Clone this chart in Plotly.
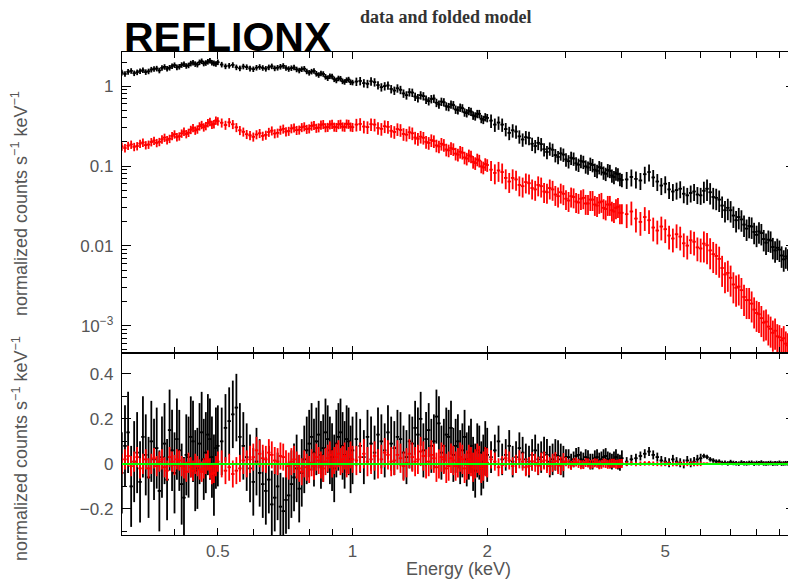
import plotly.graph_objects as go

# ---------------- data ----------------
energy = [
    0.305, 0.31, 0.315, 0.32, 0.325, 0.33, 0.335, 0.34, 0.345, 0.35,
    0.355, 0.36, 0.365, 0.37, 0.375, 0.38, 0.385, 0.39, 0.395, 0.40,
    0.405, 0.41, 0.415, 0.42, 0.425, 0.43, 0.435, 0.44, 0.445, 0.45,
    0.455, 0.46, 0.465, 0.47, 0.475, 0.48, 0.485, 0.49, 0.495, 0.50,
    0.51, 0.52, 0.53, 0.54, 0.55, 0.56, 0.57, 0.58, 0.59, 0.60,
    0.61, 0.62, 0.63, 0.64, 0.65, 0.66, 0.67, 0.68, 0.69, 0.70,
    0.71, 0.72, 0.73, 0.74, 0.75, 0.76, 0.77, 0.78, 0.79, 0.80,
    0.81, 0.82, 0.83, 0.84, 0.85, 0.86, 0.87, 0.88, 0.89, 0.90,
    0.91, 0.92, 0.93, 0.94, 0.95, 0.96, 0.97, 0.98, 0.99, 1.00,
    1.02, 1.04, 1.06, 1.08, 1.10, 1.12, 1.14, 1.16, 1.18, 1.20,
    1.22, 1.24, 1.26, 1.28, 1.30, 1.32, 1.34, 1.36, 1.38, 1.40,
    1.42, 1.44, 1.46, 1.48, 1.50, 1.52, 1.54, 1.56, 1.58, 1.60,
    1.62, 1.64, 1.66, 1.68, 1.70, 1.72, 1.74, 1.76, 1.78, 1.80,
    1.82, 1.84, 1.86, 1.88, 1.90, 1.92, 1.94, 1.96, 1.98, 2.00,
    2.04, 2.08, 2.12, 2.16, 2.20, 2.24, 2.28, 2.32, 2.36, 2.40,
    2.44, 2.48, 2.52, 2.56, 2.60, 2.64, 2.68, 2.72, 2.76, 2.80,
    2.84, 2.88, 2.92, 2.96, 3.00, 3.04, 3.08, 3.12, 3.16, 3.20,
    3.24, 3.28, 3.32, 3.36, 3.40, 3.44, 3.48, 3.52, 3.56, 3.60,
    3.64, 3.68, 3.72, 3.76, 3.80, 3.84, 3.88, 3.92, 3.96, 4.00,
    4.1, 4.2, 4.3, 4.4, 4.5, 4.6, 4.7, 4.8, 4.9, 5.0,
    5.1, 5.2, 5.3, 5.4, 5.5, 5.6, 5.7, 5.8, 5.9, 6.0,
    6.1, 6.2, 6.3, 6.4, 6.5, 6.6, 6.7, 6.8, 6.9, 7.0,
    7.1, 7.2, 7.3, 7.4, 7.5, 7.6, 7.7, 7.8, 7.9, 8.0,
    8.1, 8.2, 8.3, 8.4, 8.5, 8.6, 8.7, 8.8, 8.9, 9.0,
    9.1, 9.2, 9.3, 9.4, 9.5, 9.6,
]

black_counts = [
    1.48, 1.42, 1.51, 1.55, 1.45, 1.49, 1.54, 1.58, 1.50, 1.53,
    1.61, 1.64, 1.66, 1.57, 1.69, 1.74, 1.65, 1.70, 1.78, 1.83,
    1.72, 1.75, 1.84, 1.88, 1.79, 1.82, 1.92, 1.97, 1.89, 1.86,
    1.99, 2.05, 1.92, 1.95, 2.02, 2.08, 1.97, 1.93, 1.90, 1.99,
    1.86, 1.77, 1.80, 1.84, 1.72, 1.67, 1.76, 1.73, 1.66, 1.63,
    1.70, 1.74, 1.69, 1.65, 1.72, 1.77, 1.67, 1.70, 1.75, 1.79,
    1.69, 1.64, 1.68, 1.71, 1.62, 1.57, 1.63, 1.65, 1.53, 1.47,
    1.52, 1.55, 1.43, 1.38, 1.44, 1.42, 1.31, 1.26, 1.33, 1.32,
    1.22, 1.18, 1.25, 1.24, 1.15, 1.13, 1.19, 1.21, 1.12, 1.11,
    1.14, 1.16, 1.09, 1.07, 1.15, 1.12, 1.03, 0.97, 1.00, 1.02,
    0.92, 0.88, 0.94, 0.90, 0.81, 0.77, 0.84, 0.83, 0.74, 0.71,
    0.77, 0.75, 0.68, 0.65, 0.69, 0.70, 0.62, 0.59, 0.64, 0.63,
    0.56, 0.55, 0.59, 0.58, 0.51, 0.50, 0.54, 0.53, 0.47, 0.46,
    0.49, 0.48, 0.43, 0.42, 0.45, 0.45, 0.39, 0.38, 0.41, 0.40,
    0.37, 0.33, 0.35, 0.33, 0.29, 0.26, 0.28, 0.27, 0.235, 0.215,
    0.230, 0.225, 0.190, 0.178, 0.195, 0.188, 0.162, 0.150, 0.166, 0.160,
    0.137, 0.130, 0.144, 0.139, 0.121, 0.115, 0.127, 0.124, 0.108, 0.104,
    0.116, 0.113, 0.099, 0.096, 0.107, 0.103, 0.090, 0.087, 0.097, 0.094,
    0.083, 0.080, 0.089, 0.087, 0.076, 0.073, 0.081, 0.079, 0.069, 0.067,
    0.068, 0.073, 0.069, 0.066, 0.079, 0.084, 0.072, 0.064, 0.057, 0.060,
    0.051, 0.048, 0.050, 0.052, 0.045, 0.043, 0.046, 0.048, 0.044, 0.043,
    0.049, 0.052, 0.047, 0.041, 0.040, 0.038, 0.032, 0.028, 0.030, 0.028,
    0.024, 0.021, 0.023, 0.0215, 0.0185, 0.0165, 0.0178, 0.0175, 0.0150, 0.0138,
    0.0152, 0.0145, 0.0122, 0.0110, 0.0120, 0.0117, 0.0097, 0.0088, 0.0095, 0.0090,
    0.0076, 0.0068, 0.0074, 0.0070, 0.0058, 0.0053,
]

red_counts = [
    0.176, 0.168, 0.180, 0.186, 0.174, 0.178, 0.191, 0.197, 0.183, 0.186,
    0.200, 0.208, 0.195, 0.201, 0.216, 0.227, 0.212, 0.220, 0.238, 0.250,
    0.231, 0.236, 0.256, 0.270, 0.252, 0.262, 0.285, 0.300, 0.279, 0.288,
    0.315, 0.328, 0.306, 0.318, 0.346, 0.358, 0.330, 0.336, 0.372, 0.364,
    0.348, 0.326, 0.352, 0.333, 0.305, 0.280, 0.268, 0.250, 0.242, 0.232,
    0.248, 0.257, 0.238, 0.245, 0.266, 0.277, 0.255, 0.260, 0.283, 0.292,
    0.270, 0.274, 0.295, 0.302, 0.281, 0.284, 0.305, 0.312, 0.290, 0.294,
    0.318, 0.324, 0.299, 0.303, 0.328, 0.333, 0.304, 0.307, 0.330, 0.335,
    0.309, 0.306, 0.332, 0.336, 0.311, 0.308, 0.338, 0.335, 0.310, 0.306,
    0.330, 0.336, 0.312, 0.307, 0.334, 0.330, 0.300, 0.292, 0.315, 0.309,
    0.276, 0.267, 0.290, 0.283, 0.252, 0.247, 0.265, 0.257, 0.227, 0.219,
    0.233, 0.226, 0.201, 0.195, 0.211, 0.205, 0.181, 0.176, 0.190, 0.184,
    0.161, 0.157, 0.168, 0.163, 0.143, 0.139, 0.151, 0.147, 0.128, 0.124,
    0.136, 0.132, 0.113, 0.109, 0.121, 0.117, 0.099, 0.096, 0.106, 0.103,
    0.090, 0.082, 0.088, 0.084, 0.071, 0.064, 0.071, 0.068, 0.058, 0.056,
    0.063, 0.061, 0.053, 0.051, 0.058, 0.056, 0.048, 0.047, 0.053, 0.051,
    0.044, 0.042, 0.047, 0.045, 0.039, 0.037, 0.042, 0.041, 0.036, 0.035,
    0.039, 0.040, 0.034, 0.034, 0.038, 0.038, 0.033, 0.032, 0.035, 0.036,
    0.030, 0.029, 0.033, 0.033, 0.028, 0.027, 0.030, 0.031, 0.026, 0.026,
    0.025, 0.027, 0.022, 0.020, 0.023, 0.021, 0.017, 0.0156, 0.0175, 0.0162,
    0.0135, 0.0124, 0.0140, 0.0131, 0.0108, 0.0101, 0.0118, 0.0113, 0.0096, 0.0093,
    0.0107, 0.0102, 0.0088, 0.0079, 0.0075, 0.0069, 0.0053, 0.0044, 0.0046, 0.0040,
    0.0033, 0.0030, 0.0031, 0.0028, 0.0023, 0.0021, 0.0021, 0.0019, 0.0016, 0.00145,
    0.00140, 0.00125, 0.00110, 0.00113, 0.00098, 0.00092, 0.00082, 0.00087, 0.00074, 0.00072,
    0.00066, 0.00070, 0.00060, 0.00057, 0.00055, 0.00057,
]

# relative 1-sigma errors of the spectra (read per energy band)
black_rel_err = [0.08] * 40 + [0.08] * 50 + [0.12] * 50 + [0.19] * 50 + [0.24] * 20 + [0.30] * 36
red_rel_err = [0.12] * 40 + [0.13] * 50 + [0.18] * 50 + [0.28] * 50 + [0.33] * 20 + [0.42] * 36

black_resid = [
    -0.04, 0.08, 0.14, -0.10, 0.01, 0.05, -0.08, 0.12, 0.04, -0.06,
    0.10, 0.02, 0.07, -0.12, 0.03, 0.09, -0.07, 0.15, 0.06, -0.04,
    0.11, 0.06, -0.09, -0.15, 0.04, 0.03, 0.12, 0.10, -0.03, -0.02,
    0.09, 0.14, 0.02, 0.05, 0.13, 0.11, 0.03, -0.05, 0.07, 0.08,
    0.10, 0.16, 0.19, 0.22, 0.25, 0.12, 0.08, 0.03, -0.02, -0.08,
    0.01, -0.04, -0.09, -0.12, -0.07, -0.18, -0.15, -0.10, -0.19, -0.21,
    -0.16, -0.14, -0.09, -0.06, -0.02, -0.11, -0.04, 0.02, 0.06, 0.09,
    0.12, 0.05, 0.10, 0.13, 0.04, 0.07, 0.14, 0.11, 0.06, 0.03,
    -0.02, 0.09, 0.12, 0.14, 0.08, 0.04, 0.11, 0.10, 0.02, 0.06,
    0.11, 0.08, 0.03, 0.12, 0.09, 0.05, 0.13, 0.10, 0.06, 0.14,
    0.09, 0.07, 0.12, 0.11, 0.05, 0.03, 0.10, 0.09, 0.16, 0.13,
    0.20, 0.06, 0.11, 0.15, 0.08, 0.10, 0.21, 0.18, 0.05, 0.08,
    0.13, 0.12, 0.16, 0.04, 0.08, 0.10, 0.03, 0.06, 0.12, 0.02,
    0.05, 0.08, 0.00, -0.03, 0.06, 0.05, -0.02, 0.01, 0.07, 0.04,
    0.03, 0.06, 0.10, 0.02, 0.04, 0.08, 0.01, 0.03, 0.07, 0.05,
    0.02, 0.01, 0.04, 0.06, 0.02, 0.03, 0.05, 0.04, 0.01, 0.02,
    0.04, 0.035, 0.02, 0.01, 0.03, 0.03, 0.01, 0.02, 0.035, 0.04,
    0.02, 0.015, 0.03, 0.025, 0.01, 0.01, 0.025, 0.03, 0.015, 0.02,
    0.03, 0.035, 0.02, 0.015, 0.01, 0.02, 0.03, 0.01, 0.005, 0.025,
    0.01, 0.02, 0.025, 0.035, 0.045, 0.055, 0.04, 0.03, 0.015, 0.01,
    0.005, 0.02, 0.01, 0.005, 0.00, 0.015, 0.005, 0.01, 0.02, 0.025,
    0.035, 0.03, 0.02, 0.015, 0.01, 0.01, 0.004, 0.005, 0.002, 0.008,
    0.004, 0.003, 0.001, 0.006, 0.003, 0.002, 0.004, 0.005, 0.001, 0.004,
    0.003, 0.006, 0.002, 0.002, 0.003, 0.004, 0.001, 0.003, 0.002, 0.005,
    0.001, 0.002, 0.003, 0.003, 0.001, 0.001,
]

red_resid = [
    0.00, 0.02, 0.035, -0.01, 0.01, 0.03, -0.02, 0.00, 0.02, -0.02,
    0.00, 0.025, -0.01, 0.01, 0.02, -0.015, -0.03, 0.03, 0.01, -0.005,
    0.02, 0.015, -0.01, -0.02, -0.035, 0.005, -0.015, -0.03, 0.00, -0.01,
    -0.025, -0.035, -0.02, 0.00, 0.015, -0.02, -0.045, -0.04, -0.01, 0.01,
    0.00, -0.03, -0.015, -0.045, -0.03, -0.02, 0.015, 0.00, 0.02, 0.03,
    0.06, 0.045, 0.025, 0.02, 0.05, 0.04, 0.015, 0.01, 0.035, 0.03,
    0.00, -0.01, 0.01, 0.02, -0.005, -0.02, -0.035, 0.00, -0.015, -0.025,
    0.005, -0.01, 0.03, 0.015, -0.005, -0.02, 0.01, 0.025, 0.04, 0.00,
    0.015, 0.03, 0.045, 0.01, 0.02, 0.035, 0.00, 0.015, 0.04, 0.02,
    0.015, 0.03, 0.045, 0.01, 0.02, 0.035, 0.00, 0.02, 0.05, 0.04,
    0.01, 0.015, 0.04, 0.025, -0.01, 0.005, 0.045, 0.03, 0.01, 0.02,
    0.055, 0.035, 0.00, 0.01, 0.04, 0.025, -0.015, 0.00, 0.03, 0.02,
    -0.02, -0.01, 0.025, 0.015, -0.01, 0.005, 0.03, 0.02, -0.02, -0.005,
    0.02, 0.01, -0.015, 0.00, 0.025, 0.015, -0.02, -0.01, 0.01, 0.005,
    0.02, 0.01, -0.015, -0.005, 0.025, 0.015, -0.01, 0.00, 0.02, 0.01,
    -0.015, -0.01, 0.012, 0.005, -0.008, 0.01, 0.015, 0.00, -0.01, 0.005,
    0.012, -0.005, -0.008, 0.008, 0.01, 0.00, -0.006, 0.005, 0.008, 0.002,
    -0.004, -0.003, 0.006, 0.004, -0.003, 0.00, 0.005, 0.003, -0.004, -0.002,
    0.004, 0.002, -0.002, 0.00, 0.003, 0.003, -0.002, -0.001, 0.002, 0.002,
    0.001, 0.002, -0.001, 0.001, 0.002, 0.003, 0.001, 0.00, -0.001, 0.001,
    0.001, -0.001, 0.00, 0.001, 0.00, 0.00, 0.001, 0.001, 0.00, 0.00,
    0.001, 0.001, 0.00, 0.00, 0.00, 0.001, 0.00, 0.00, 0.00, 0.00,
    0.00, 0.00, 0.00, 0.00, 0.00, 0.00, 0.00, 0.00, 0.00, 0.00,
    0.00, 0.00, 0.00, 0.00, 0.00, 0.00, 0.00, 0.00, 0.00, 0.00,
    0.00, 0.00, 0.00, 0.00, 0.00, 0.00,
]

black_resid_err = [0.18] * 40 + [0.15] * 50 + [0.12] * 50 + [0.07] * 24 + [0.035] * 26 + [0.02] * 20 + [0.01] * 36
red_resid_err = [0.045] * 40 + [0.06] * 50 + [0.065] * 50 + [0.04] * 24 + [0.02] * 26 + [0.01] * 20 + [0.005] * 36

x_tick_vals = [0.5, 1, 2, 5]
x_tick_text = ["0.5", "1", "2", "5"]
x_minor_vals = [0.4, 0.6, 0.7, 0.8, 0.9, 3, 4, 6, 7, 8, 9]
y_tick_vals = [0.001, 0.01, 0.1, 1]
y_tick_text = ["10<sup>\u22123</sup>", "0.01", "0.1", "1"]
y_minor_vals = [k * 10.0 ** d for d in range(-4, 1) for k in range(2, 10)]
res_tick_vals = [-0.2, 0, 0.2, 0.4]
res_tick_text = ["\u22120.2", "0", "0.2", "0.4"]

# ---------------- figure ----------------
BLACK = "#000000"
RED = "#ff0000"
GREEN = "#00ff00"
FONT = "Liberation Sans, Arial, Helvetica, sans-serif"
GREY = "#555555"

black_err = [v * r for v, r in zip(black_counts, black_rel_err)]
red_err = [v * r for v, r in zip(red_counts, red_rel_err)]


def data_trace(y, err, color, xa, ya):
    return go.Scatter(
        x=energy, y=y, mode="markers", xaxis=xa, yaxis=ya,
        marker=dict(size=2, color=color),
        error_y=dict(type="data", array=err, visible=True, color=color, thickness=1.8, width=0),
        error_x=dict(type="percent", value=0.9, visible=True, color=color, thickness=1.8, width=0),
        hoverinfo="skip", showlegend=False,
    )


fig = go.Figure()
fig.add_trace(data_trace(black_counts, black_err, BLACK, "x", "y"))
fig.add_trace(data_trace(red_counts, red_err, RED, "x", "y"))
fig.add_trace(data_trace(black_resid, black_resid_err, BLACK, "x2", "y2"))
fig.add_trace(data_trace(red_resid, red_resid_err, RED, "x2", "y2"))

axis_common = dict(
    showline=True, linecolor=BLACK, linewidth=1.4, mirror="allticks",
    ticks="inside", tickcolor=BLACK, tickwidth=1.2,
    showgrid=False, zeroline=False,
    tickfont=dict(family=FONT, size=17, color=GREY),
)

split = 0.377
xr = [-0.5153, 0.989]

# the page body adds an 8 px offset; the figure is sized so the plot lands where the reference has it
fig.update_layout(
    width=788, height=575,
    margin=dict(l=114, r=1, t=44, b=48),
    paper_bgcolor="white", plot_bgcolor="white",
    showlegend=False,
    xaxis=dict(
        domain=[0, 1], anchor="y", type="log", range=xr,
        tickvals=x_tick_vals, ticktext=x_tick_text, showticklabels=False, ticklen=7,
        minor=dict(tickvals=x_minor_vals, ticks="inside", ticklen=6, tickcolor=BLACK, tickwidth=1.2),
        **axis_common,
    ),
    xaxis2=dict(
        domain=[0, 1], anchor="y2", type="log", range=xr, matches="x",
        tickvals=x_tick_vals, ticktext=x_tick_text, ticklen=7, ticklabelstandoff=0,
        minor=dict(tickvals=x_minor_vals, ticks="inside", ticklen=6, tickcolor=BLACK, tickwidth=1.2),
        **axis_common,
    ),
    yaxis=dict(
        domain=[split, 1], anchor="x", type="log", range=[-3.338, 0.4266],
        tickvals=y_tick_vals, ticktext=y_tick_text, ticklen=9, ticklabelstandoff=4,
        minor=dict(tickvals=y_minor_vals, ticks="inside", ticklen=5, tickcolor=BLACK, tickwidth=1.1),
        **axis_common,
    ),
    yaxis2=dict(
        domain=[0, split], anchor="x2", range=[-0.316, 0.493],
        tickvals=res_tick_vals, ticktext=res_tick_text, ticklen=9, ticklabelstandoff=4,
        minor=dict(dtick=0.1, ticks="inside", ticklen=5, tickcolor=BLACK, tickwidth=1.1),
        **axis_common,
    ),
)

# zero line of the residual panel
fig.add_shape(type="line", xref="x2 domain", yref="y2", x0=0, x1=1, y0=0, y1=0,
              line=dict(color=GREEN, width=2), layer="above")

ylab = "normalized counts s<sup>\u22121</sup> keV<sup>\u22121</sup>"
fig.add_annotation(text=ylab, xref="paper", yref="paper", x=-0.1516, y=0.6874,
                   xanchor="center", yanchor="middle", textangle=-90, showarrow=False,
                   font=dict(family=FONT, size=18, color=GREY))
fig.add_annotation(text=ylab, xref="paper", yref="paper", x=-0.1516, y=0.18,
                   xanchor="center", yanchor="middle", textangle=-90, showarrow=False,
                   font=dict(family=FONT, size=18, color=GREY))
fig.add_annotation(text="Energy (keV)", xref="paper", yref="paper", x=0.5, y=-0.071,
                   xanchor="center", yanchor="middle", showarrow=False,
                   font=dict(family=FONT, size=18, color=GREY))
fig.add_annotation(text="<b>data and folded model</b>", xref="paper", yref="paper",
                   x=0.4807, y=1.072, xanchor="center", yanchor="middle", showarrow=False,
                   font=dict(family="Liberation Serif, Times New Roman, serif", size=18, color="#333333"))
fig.add_annotation(text="<b>REFLIONX</b>", xref="paper", yref="paper",
                   x=0, y=0.979, xanchor="left", yanchor="bottom", showarrow=False,
                   font=dict(family=FONT, size=41, color=BLACK))

fig.write_html("out.html")
